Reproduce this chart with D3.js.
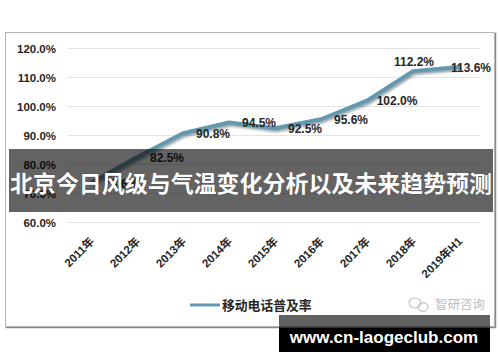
<!DOCTYPE html>
<html>
<head>
<meta charset="utf-8">
<script src="https://cdn.jsdelivr.net/npm/d3@7"></script>
<style>
  html, body { margin: 0; padding: 0; background: #fff; }
  svg { display: block; }
  .tick-lbl { font: bold 11.5px "Liberation Sans", Arial, "Noto Sans CJK SC", sans-serif; fill: #262626; }
  .data-lbl { font: bold 12px "Liberation Sans", Arial, sans-serif; fill: #262626; }
</style>
</head>
<body>
<svg id="chart" width="500" height="362"></svg>
<script>
const categories = ['2011年', '2012年', '2013年', '2014年', '2015年', '2016年', '2017年', '2018年', '2019年H1'];
const penetration = [73.6, 82.5, 90.8, 94.5, 92.5, 95.6, 102.0, 112.2, 113.6];
const yTicks = [60, 70, 80, 90, 100, 110, 120];
const seriesName = '移动电话普及率';
const overlayTitle = '北京今日风级与气温变化分析以及未来趋势预测';
const sourceMark = '智研咨询';
const siteMark = 'www.cn-laogeclub.com';

const svg = d3.select('#chart');
const W = 500, H = 362;
const m = { left: 68, right: 482, top: 48.5, bottom: 222.5 };

const defs = svg.append('defs');
const blur = defs.append('filter').attr('id', 'shadow').attr('x', '-10%').attr('y', '-10%').attr('width', '120%').attr('height', '130%');
blur.append('feGaussianBlur').attr('stdDeviation', 1.2);

// chart frame with a soft shadow on right/bottom
svg.append('rect').attr('x', 6.5).attr('y', 33.5).attr('width', 489).attr('height', 294)
  .attr('fill', 'none').attr('stroke', '#8a8a8a').attr('stroke-width', 1.5);
svg.append('rect').attr('x', 5.5).attr('y', 32.5).attr('width', 489).attr('height', 294)
  .attr('fill', '#fff').attr('stroke', '#b4b4b4');

const x = d3.scaleBand().domain(categories).range([m.left, m.right]);
const y = d3.scaleLinear().domain([60, 120]).range([m.bottom, m.top]);
const cx = d => x(d) + x.bandwidth() / 2;

// gridlines
svg.append('g').selectAll('line').data(yTicks).join('line')
  .attr('x1', m.left).attr('x2', 480)
  .attr('y1', d => y(d)).attr('y2', d => y(d))
  .attr('stroke', '#e3e3e3').attr('stroke-width', 1);

// y axis labels
const yAxis = d3.axisLeft(y).tickValues(yTicks).tickSize(0).tickPadding(0)
  .tickFormat(d => d3.format('.1f')(d) + '%');
const yg = svg.append('g').attr('transform', 'translate(56,0)').call(yAxis);
yg.select('.domain').remove();
yg.selectAll('text').attr('class', 'tick-lbl').attr('fill', null).attr('dy', '0.35em');

// x axis labels, rotated
const xAxis = d3.axisBottom(x).tickSize(0).tickPadding(0);
const xg = svg.append('g').attr('transform', 'translate(0,242)').call(xAxis);
xg.select('.domain').remove();
xg.selectAll('text').attr('class', 'tick-lbl').attr('fill', null)
  .attr('text-anchor', 'end').attr('dy', 0)
  .attr('transform', 'translate(4,0) rotate(-45)');

// line
const pts = categories.map((c, i) => [cx(c), y(penetration[i])]);
const line = d3.line();
svg.append('path').attr('d', line(pts.map(p => [p[0] + 1.5, p[1] + 2])))
  .attr('fill', 'none').attr('stroke', 'rgba(40,60,70,0.45)').attr('stroke-width', 4)
  .attr('stroke-linejoin', 'round').attr('filter', 'url(#shadow)');
svg.append('path').attr('d', line(pts))
  .attr('fill', 'none').attr('stroke', '#6399b0').attr('stroke-width', 4)
  .attr('stroke-linejoin', 'round').attr('stroke-linecap', 'round');

// data labels: right of the point, the 2018 label sits above
const labelsAbove = new Set(['2018年']);
svg.append('g').selectAll('text').data(categories).join('text')
  .attr('class', 'data-lbl').attr('text-anchor', 'middle')
  .attr('x', function (c) {
    if (labelsAbove.has(c)) return cx(c) + 1;
    return cx(c) + 30;
  })
  .attr('y', (c, i) => labelsAbove.has(c) ? y(penetration[i]) - 5 : y(penetration[i]) + 4.5)
  .text((c, i) => d3.format('.1f')(penetration[i]) + '%')
  .each(function () {
    // keep labels inside the chart area
    const w = this.getComputedTextLength();
    const xx = +this.getAttribute('x');
    if (xx + w / 2 > 491) this.setAttribute('x', 491 - w / 2);
  });

// legend
svg.append('line').attr('x1', 190).attr('x2', 220).attr('y1', 305).attr('y2', 305)
  .attr('stroke', '#6399b0').attr('stroke-width', 3);
svg.append('text').attr('x', 222).attr('y', 309.5)
  .attr('font-family', '"Noto Sans CJK SC", sans-serif').attr('font-weight', 700)
  .attr('font-size', 12.8).attr('fill', '#262626').text(seriesName);

// source watermark
const logo = svg.append('g').attr('fill', 'none').attr('stroke', '#c4c4c4').attr('stroke-width', 1.2);
logo.append('ellipse').attr('cx', 415).attr('cy', 303).attr('rx', 6).attr('ry', 5);
logo.append('ellipse').attr('cx', 423).attr('cy', 307).attr('rx', 5).attr('ry', 4.2);
svg.append('text').attr('x', 435).attr('y', 309)
  .attr('font-family', '"Noto Sans CJK SC", sans-serif').attr('font-size', 12.5)
  .attr('fill', '#bdbdbd').text(sourceMark);

// title overlay
svg.append('rect').attr('x', 9).attr('y', 149).attr('width', 484).attr('height', 63)
  .attr('fill', 'rgba(0,0,0,0.61)');
svg.append('text').attr('x', 251).attr('y', 191.5).attr('text-anchor', 'middle')
  .attr('font-family', '"Noto Sans CJK SC", sans-serif').attr('font-weight', 700)
  .attr('font-size', 23).attr('fill', '#fff')
  .attr('stroke', 'rgba(0,0,0,0.35)').attr('stroke-width', 0.6).attr('paint-order', 'stroke')
  .attr('textLength', 482).attr('lengthAdjust', 'spacingAndGlyphs')
  .text(overlayTitle);

// site overlay
svg.append('rect').attr('x', 279).attr('y', 315).attr('width', 211).attr('height', 13)
  .attr('fill', 'rgba(0,0,0,0.62)');
svg.append('rect').attr('x', 279).attr('y', 328).attr('width', 211).attr('height', 24)
  .attr('fill', '#000');
svg.append('text').attr('x', 384).attr('y', 342.5).attr('text-anchor', 'middle')
  .attr('font-family', '"Liberation Sans", Arial, sans-serif').attr('font-weight', 700)
  .attr('font-size', 17).attr('fill', '#fff').text(siteMark);
</script>
</body>
</html>
